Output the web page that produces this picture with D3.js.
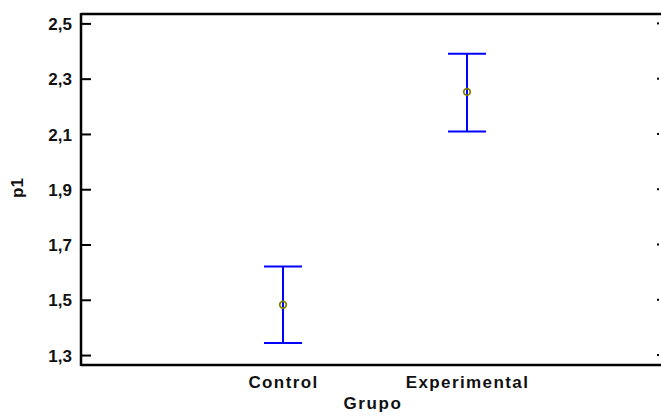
<!DOCTYPE html>
<html><head><meta charset="utf-8">
<script src="https://cdn.jsdelivr.net/npm/d3@7/dist/d3.min.js"></script>
<style>body{margin:0;background:#fff}svg{display:block}text{font-family:"Liberation Sans",Arial,sans-serif;font-weight:bold;fill:#111}</style>
</head><body><svg id="c" width="661" height="420"></svg>
<script>
const categories = ["Control", "Experimental"];
const means = [1.482, 2.252];
const lower = [1.344, 2.109];
const upper = [1.620, 2.390];
const yTicks = [1.3, 1.5, 1.7, 1.9, 2.1, 2.3, 2.5];

const svg = d3.select("#c");
const pLeft = 81, pRight = 661, pTop = 14, pBottom = 365;
const y = d3.scaleLinear().domain([1.264, 2.534]).range([pBottom, pTop]);
const x = d3.scalePoint().domain(categories).range([283, 467]);
const fmt = d => d3.format(".1f")(d).replace(".", ",");
const FS = 17, LS = "1.4px";

// frame
const g = svg.append("g");
g.append("line").attr("x1", pLeft).attr("x2", pRight + 2).attr("y1", pTop).attr("y2", pTop).attr("stroke", "#000").attr("stroke-width", 2.5);
g.append("line").attr("x1", pLeft).attr("x2", pRight + 2).attr("y1", pBottom).attr("y2", pBottom).attr("stroke", "#000").attr("stroke-width", 2.5);
g.append("line").attr("x1", pLeft).attr("x2", pLeft).attr("y1", pTop - 1).attr("y2", pBottom + 1).attr("stroke", "#000").attr("stroke-width", 2.5);

// left axis
const yAxis = d3.axisLeft(y).tickValues(yTicks).tickFormat(fmt).tickSize(-10).tickPadding(9);
const ya = svg.append("g").attr("transform", `translate(${pLeft},0)`).call(yAxis);
ya.select(".domain").remove();
ya.selectAll(".tick line").attr("stroke", "#000").attr("stroke-width", 2);
ya.selectAll(".tick text").attr("font-size", FS).attr("font-family", "Liberation Sans, Arial, sans-serif").attr("font-weight", "bold").attr("fill", "#111").attr("dy", "0.36em");

// right tick marks
svg.append("g").selectAll("rect").data(yTicks).join("rect")
  .attr("x", 657).attr("y", d => y(d) - 1).attr("width", 2).attr("height", 2).attr("fill", "#000");

// bottom axis labels
const xAxis = d3.axisBottom(x).tickSize(0).tickPadding(11);
const xa = svg.append("g").attr("transform", `translate(0,${pBottom})`).call(xAxis);
xa.select(".domain").remove();
xa.selectAll(".tick text").attr("font-size", FS).attr("font-family", "Liberation Sans, Arial, sans-serif").attr("font-weight", "bold").attr("fill", "#111").attr("letter-spacing", LS);

svg.append("text").attr("x", 373).attr("y", 409).attr("text-anchor", "middle").attr("font-size", FS).attr("letter-spacing", "1.6px").text("Grupo");
svg.append("text").attr("transform", "translate(23,188) rotate(-90)").attr("text-anchor", "middle").attr("font-size", FS).text("p1");

// error bars
const eb = svg.append("g");
categories.forEach((c, i) => {
  const cx = x(c);
  eb.append("line").attr("x1", cx).attr("x2", cx).attr("y1", y(upper[i])).attr("y2", y(lower[i])).attr("stroke", "#0000ff").attr("stroke-width", 2);
  eb.append("line").attr("x1", cx - 19).attr("x2", cx + 19).attr("y1", y(upper[i])).attr("y2", y(upper[i])).attr("stroke", "#0000ff").attr("stroke-width", 2);
  eb.append("line").attr("x1", cx - 19).attr("x2", cx + 19).attr("y1", y(lower[i])).attr("y2", y(lower[i])).attr("stroke", "#0000ff").attr("stroke-width", 2);
  eb.append("circle").attr("cx", cx).attr("cy", y(means[i])).attr("r", 3.3).attr("fill", "none").attr("stroke", "#808000").attr("stroke-width", 1.7);
});
</script></body></html>
